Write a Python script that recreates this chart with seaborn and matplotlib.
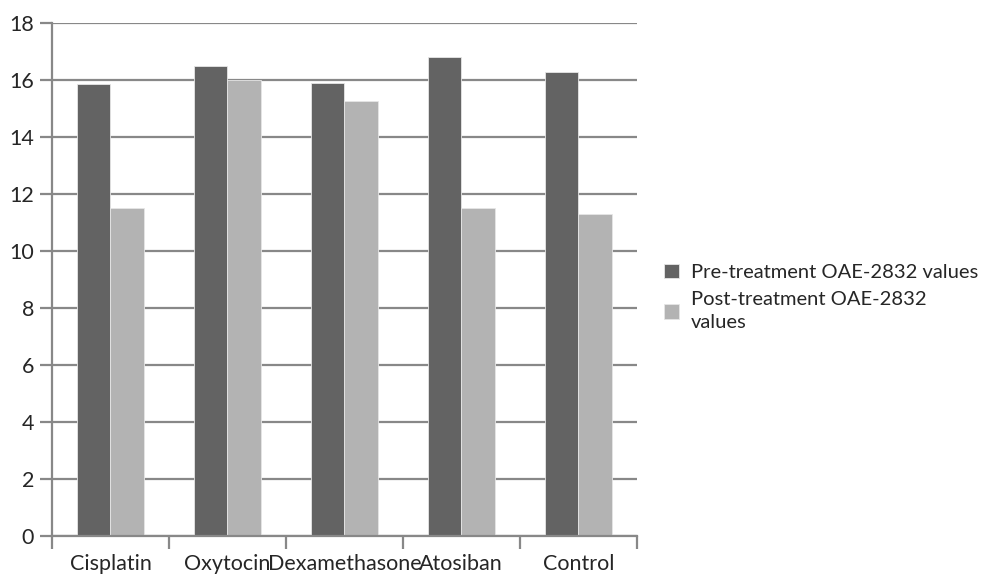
import matplotlib
matplotlib.use("Agg")
import matplotlib.pyplot as plt
import seaborn as sns
import pandas as pd

categories = ["Cisplatin", "Oxytocin", "Dexamethasone", "Atosiban", "Control"]
pre_values = [15.86, 16.51, 15.88, 16.81, 16.28]
post_values = [11.50, 16.00, 15.27, 11.51, 11.29]
series_names = ["Pre-treatment OAE-2832 values", "Post-treatment OAE-2832\nvalues"]

df = pd.DataFrame({
    "category": categories * 2,
    "value": pre_values + post_values,
    "series": [series_names[0]] * 5 + [series_names[1]] * 5,
})

sns.set_style("white")
plt.rcParams["font.family"] = ["Lato", "DejaVu Sans"]

grid_col = "#888888"
fig = plt.figure(figsize=(9.81, 5.76), dpi=100)
ax = fig.add_axes([0.053, 0.0694, 0.596, 0.8906])

sns.barplot(data=df, x="category", y="value", hue="series",
            palette=["#636363", "#b3b3b3"], width=2 / 3.5,
            edgecolor="#e6e6e6", linewidth=0.6, ax=ax)

ax.set_ylim(0, 18)
ax.set_xlim(-0.5, 4.5)
ax.set_yticks(range(0, 19, 2))
ax.yaxis.grid(True, color=grid_col, linewidth=1.6)
ax.set_axisbelow(True)
ax.set_xlabel("")
ax.set_ylabel("")

for s in ["top", "right"]:
    ax.spines[s].set_visible(False)
for s in ["left", "bottom"]:
    ax.spines[s].set_color(grid_col)
    ax.spines[s].set_linewidth(1.6)

ax.tick_params(axis="y", which="major", length=9, width=1.6, color=grid_col,
               labelsize=15.5, pad=4, left=True, direction="out")
ax.tick_params(axis="x", which="major", length=0, labelsize=15.5, pad=13)
ax.set_xticks([i - 0.5 for i in range(6)], minor=True)
ax.tick_params(axis="x", which="minor", length=9, width=1.6, color=grid_col,
               bottom=True, direction="out")

leg = ax.legend(loc="center left", bbox_to_anchor=(1.015, 0.465), frameon=False,
                fontsize=14.5, handlelength=0.75, handleheight=0.75,
                handletextpad=0.6, labelspacing=0.5)
for t in leg.get_texts():
    t.set_linespacing(1.45)

fig.savefig("out.png", dpi=100)
